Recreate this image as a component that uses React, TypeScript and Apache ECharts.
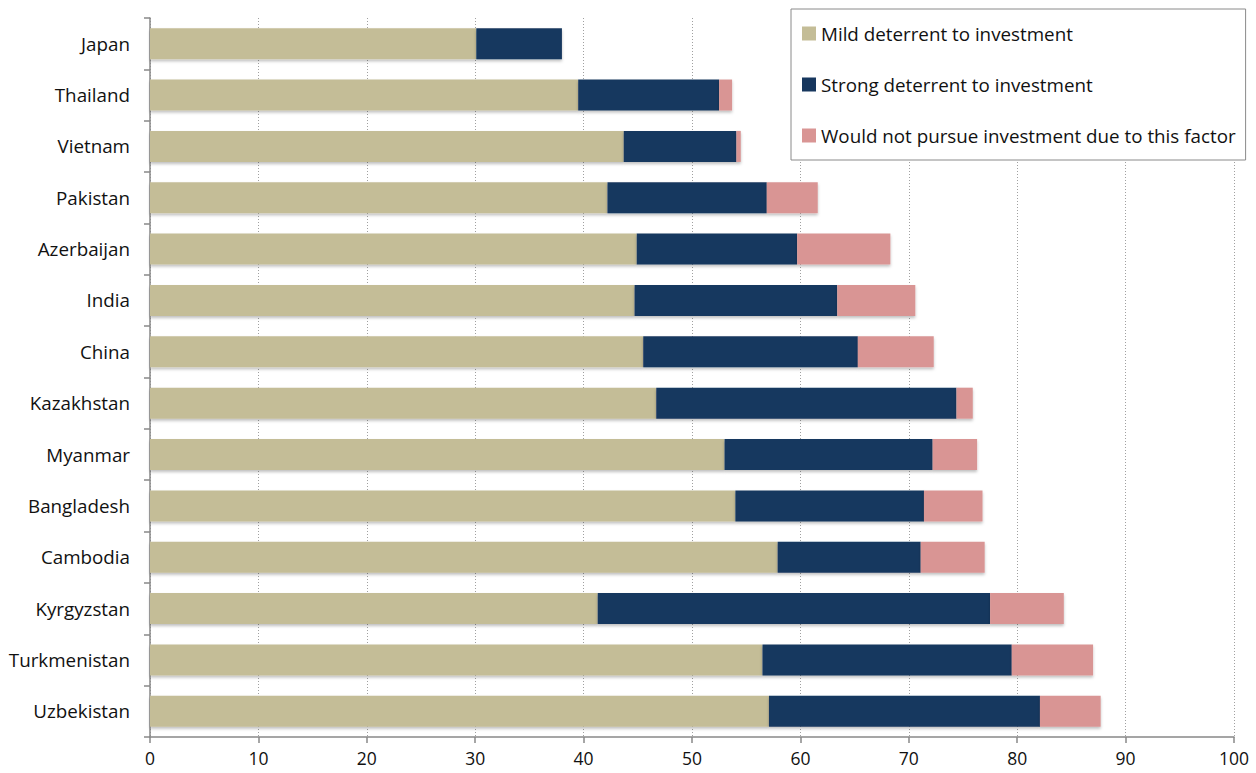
import React, { useEffect, useRef } from "react";
import * as echarts from "echarts";

const countries = [
  "Japan", "Thailand", "Vietnam", "Pakistan", "Azerbaijan", "India", "China",
  "Kazakhstan", "Myanmar", "Bangladesh", "Cambodia", "Kyrgyzstan", "Turkmenistan", "Uzbekistan",
];
const mild = [30.1, 39.5, 43.7, 42.2, 44.9, 44.7, 45.5, 46.7, 53.0, 54.0, 57.9, 41.3, 56.5, 57.1];
const strong = [7.9, 13.0, 10.4, 14.7, 14.8, 18.7, 19.8, 27.7, 19.2, 17.4, 13.2, 36.2, 23.0, 25.0];
const wouldNot = [0, 1.2, 0.4, 4.7, 8.6, 7.2, 7.0, 1.5, 4.1, 5.4, 5.9, 6.8, 7.5, 5.6];
const seriesNames = [
  "Mild deterrent to investment",
  "Strong deterrent to investment",
  "Would not pursue investment due to this factor",
];
const colors = ["#C4BD97", "#17375E", "#D99594"];

const FONT = "Open Sans";

export default function App() {
  const ref = useRef<HTMLDivElement>(null);
  useEffect(() => {
    document.body.style.margin = "0";
    const chart = echarts.init(ref.current!, null, { renderer: "svg" });
    const datasets = [mild, strong, wouldNot];
    chart.setOption({
      animation: false,
      backgroundColor: "#ffffff",
      textStyle: { fontFamily: FONT },
      grid: { left: 150, right: 22, top: 18, bottom: 36, containLabel: false },
      legend: {
        orient: "vertical",
        left: 791,
        top: 9,
        backgroundColor: "#ffffff",
        borderColor: "#8a8a8a",
        borderWidth: 1,
        padding: [15, 10, 15, 11],
        itemWidth: 14,
        itemHeight: 14,
        itemGap: 32,
        icon: "rect",
        textStyle: { fontFamily: FONT, fontSize: 18.8, color: "#111" },
        data: seriesNames,
      },
      xAxis: {
        type: "value",
        min: 0,
        max: 100,
        interval: 10,
        axisLine: { show: true, lineStyle: { color: "#888", width: 1.5 } },
        axisTick: { show: true, length: 6, lineStyle: { color: "#888", width: 1.5 } },
        axisLabel: { fontFamily: FONT, fontSize: 17.5, color: "#111", margin: 12 },
        splitLine: { show: true, lineStyle: { color: "#a0a0a0", type: [1, 2], width: 1 } },
      },
      yAxis: {
        type: "category",
        inverse: true,
        data: countries,
        axisLine: { show: true, lineStyle: { color: "#888", width: 1.5 } },
        axisTick: { show: true, length: 6, lineStyle: { color: "#888", width: 1.5 } },
        axisLabel: { fontFamily: FONT, fontSize: 18.8, color: "#111", margin: 20 },
        splitLine: { show: false },
      },
      series: datasets.map((d, i) => ({
        name: seriesNames[i],
        type: "bar",
        stack: "total",
        data: d,
        barWidth: 31,
        itemStyle: {
          color: colors[i],
          shadowColor: "rgba(0,0,0,0.25)",
          shadowBlur: 3,
          shadowOffsetY: 2,
        },
      })),
    });
    return () => chart.dispose();
  }, []);
  return <div ref={ref} style={{ width: 1256, height: 773 }} />;
}
